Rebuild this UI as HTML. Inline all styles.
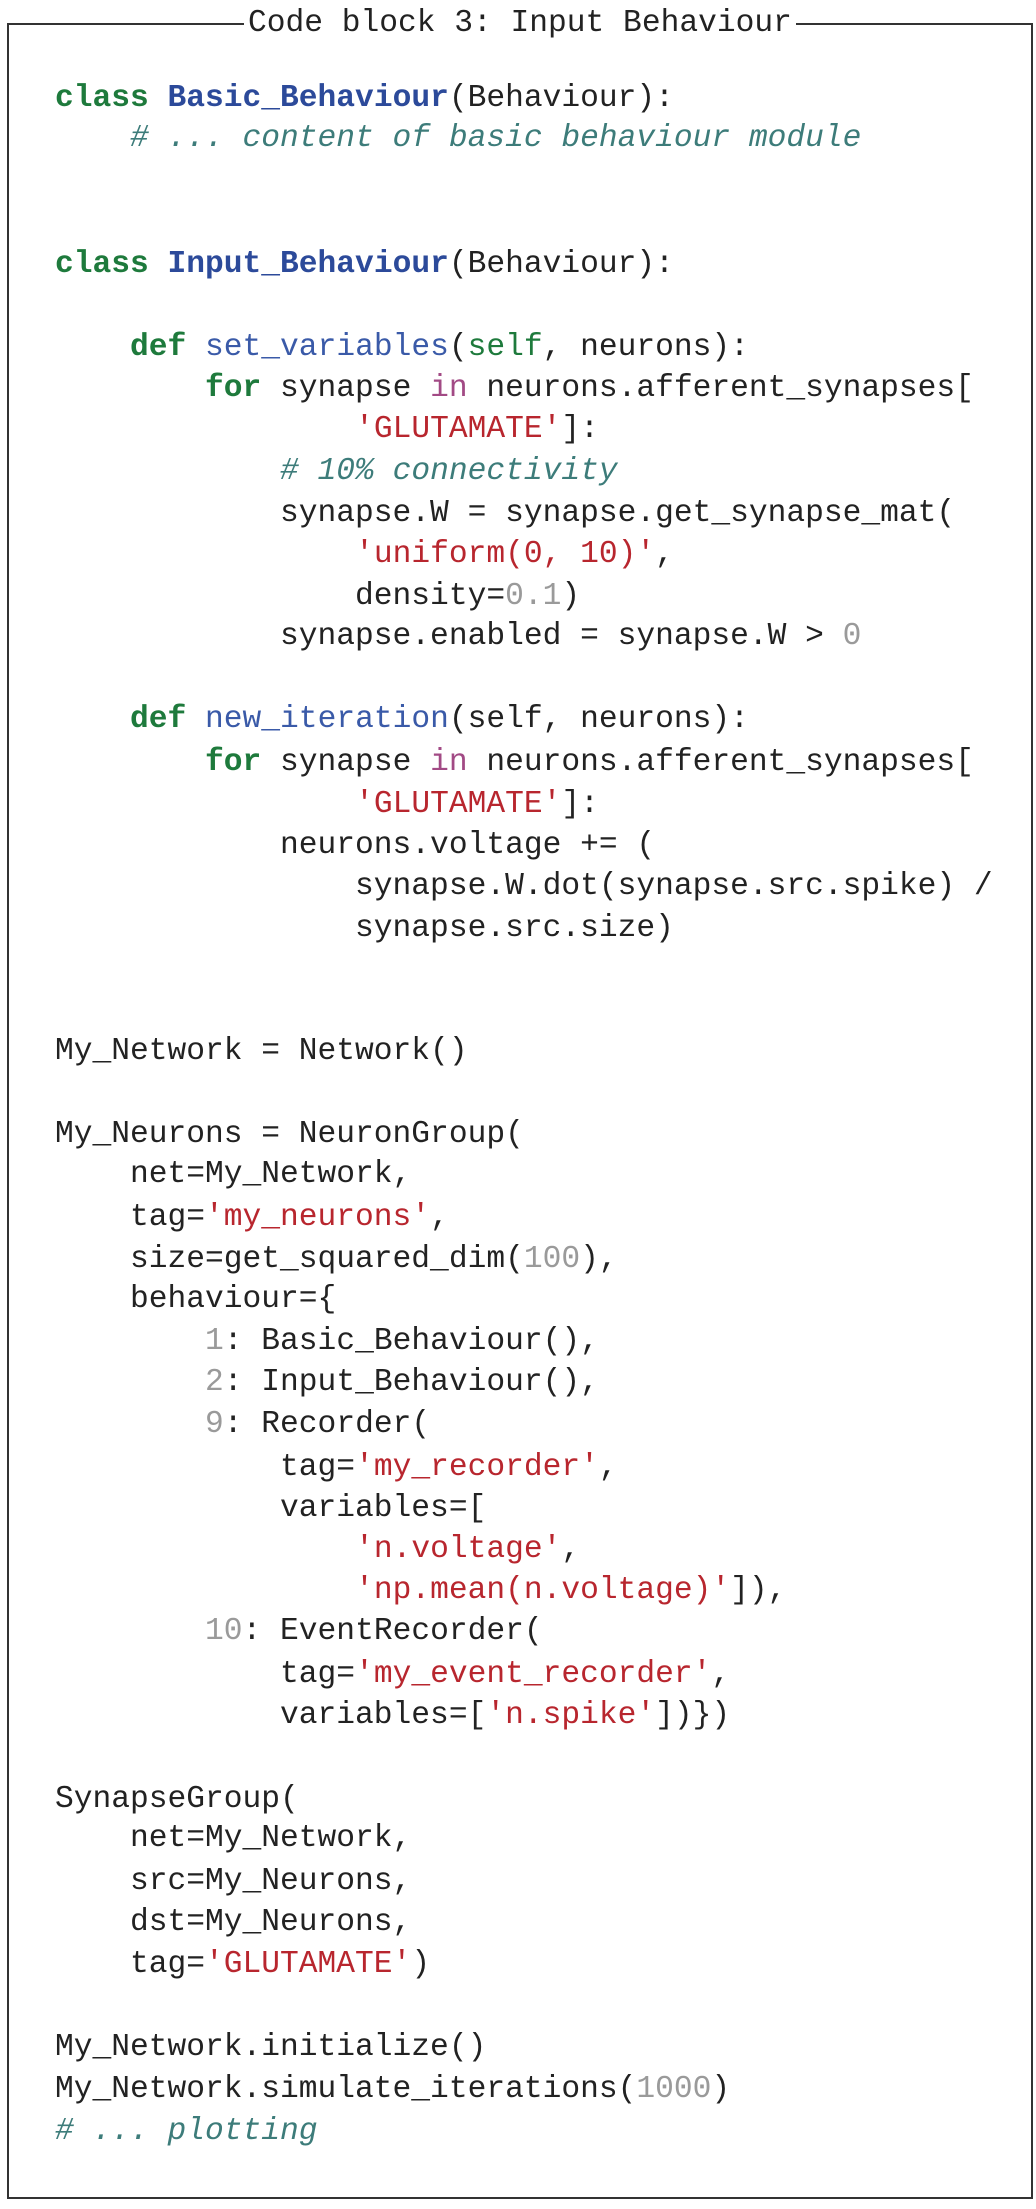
<!DOCTYPE html>
<html><head><meta charset="utf-8"><style>
html,body{margin:0;padding:0;background:#fff;}
body{width:1036px;height:2209px;position:relative;overflow:hidden;font-family:"Liberation Mono",monospace;font-size:31.25px;color:#222;}
.l{position:absolute;left:55px;height:40px;line-height:40px;white-space:pre;}
.k{color:#1e7a3c;font-weight:bold;}
.c{color:#2c4a9a;font-weight:bold;}
.f{color:#3a5aa8;}
.s{color:#b8262e;}
.n{color:#9a9a9a;}
.m{color:#3d7c7a;font-style:italic;}
.p{color:#a24a85;}
.g{color:#1e7a3c;}
#box{position:absolute;left:7px;top:24px;width:1022px;height:2173px;border:2px solid #333;border-top:none;}
#top{position:absolute;left:7px;top:23px;width:1026px;height:2px;background:#333;}
#title{position:absolute;left:244px;top:4px;height:40px;line-height:40px;padding:0 4px;background:#fff;white-space:pre;color:#222;}
</style></head><body>
<div id="box"></div>
<div id="top"></div>
<div id="title">Code block 3: Input Behaviour</div>

<div class="l" style="top:79px"><span class="k">class</span> <span class="c">Basic_Behaviour</span>(Behaviour):</div>
<div class="l" style="top:119px"><span class="m">    # ... content of basic behaviour module</span></div>
<div class="l" style="top:245px"><span class="k">class</span> <span class="c">Input_Behaviour</span>(Behaviour):</div>
<div class="l" style="top:328px">    <span class="k">def</span> <span class="f">set_variables</span>(<span class="g">self</span>, neurons):</div>
<div class="l" style="top:369px">        <span class="k">for</span> synapse <span class="p">in</span> neurons.afferent_synapses[</div>
<div class="l" style="top:410px">                <span class="s">'GLUTAMATE'</span>]:</div>
<div class="l" style="top:452px">            <span class="m"># 10% connectivity</span></div>
<div class="l" style="top:494px">            synapse.W = synapse.get_synapse_mat(</div>
<div class="l" style="top:535px">                <span class="s">'uniform(0, 10)'</span>,</div>
<div class="l" style="top:577px">                density=<span class="n">0.1</span>)</div>
<div class="l" style="top:617px">            synapse.enabled = synapse.W &gt; <span class="n">0</span></div>
<div class="l" style="top:700px">    <span class="k">def</span> <span class="f">new_iteration</span>(self, neurons):</div>
<div class="l" style="top:743px">        <span class="k">for</span> synapse <span class="p">in</span> neurons.afferent_synapses[</div>
<div class="l" style="top:785px">                <span class="s">'GLUTAMATE'</span>]:</div>
<div class="l" style="top:826px">            neurons.voltage += (</div>
<div class="l" style="top:867px">                synapse.W.dot(synapse.src.spike) /</div>
<div class="l" style="top:909px">                synapse.src.size)</div>

<div class="l" style="top:1032px">My_Network = Network()</div>
<div class="l" style="top:1115px">My_Neurons = NeuronGroup(</div>
<div class="l" style="top:1155px">    net=My_Network,</div>
<div class="l" style="top:1198px">    tag=<span class="s">'my_neurons'</span>,</div>
<div class="l" style="top:1240px">    size=get_squared_dim(<span class="n">100</span>),</div>
<div class="l" style="top:1280px">    behaviour={</div>
<div class="l" style="top:1322px">        <span class="n">1</span>: Basic_Behaviour(),</div>
<div class="l" style="top:1363px">        <span class="n">2</span>: Input_Behaviour(),</div>
<div class="l" style="top:1405px">        <span class="n">9</span>: Recorder(</div>
<div class="l" style="top:1448px">            tag=<span class="s">'my_recorder'</span>,</div>
<div class="l" style="top:1489px">            variables=[</div>
<div class="l" style="top:1530px">                <span class="s">'n.voltage'</span>,</div>
<div class="l" style="top:1571px">                <span class="s">'np.mean(n.voltage)'</span>]),</div>
<div class="l" style="top:1612px">        <span class="n">10</span>: EventRecorder(</div>
<div class="l" style="top:1655px">            tag=<span class="s">'my_event_recorder'</span>,</div>
<div class="l" style="top:1696px">            variables=[<span class="s">'n.spike'</span>])})</div>

<div class="l" style="top:1780px">SynapseGroup(</div>
<div class="l" style="top:1819px">    net=My_Network,</div>
<div class="l" style="top:1862px">    src=My_Neurons,</div>
<div class="l" style="top:1903px">    dst=My_Neurons,</div>
<div class="l" style="top:1945px">    tag=<span class="s">'GLUTAMATE'</span>)</div>

<div class="l" style="top:2028px">My_Network.initialize()</div>
<div class="l" style="top:2070px">My_Network.simulate_iterations(<span class="n">1000</span>)</div>
<div class="l" style="top:2112px"><span class="m"># ... plotting</span></div>
</body></html>
